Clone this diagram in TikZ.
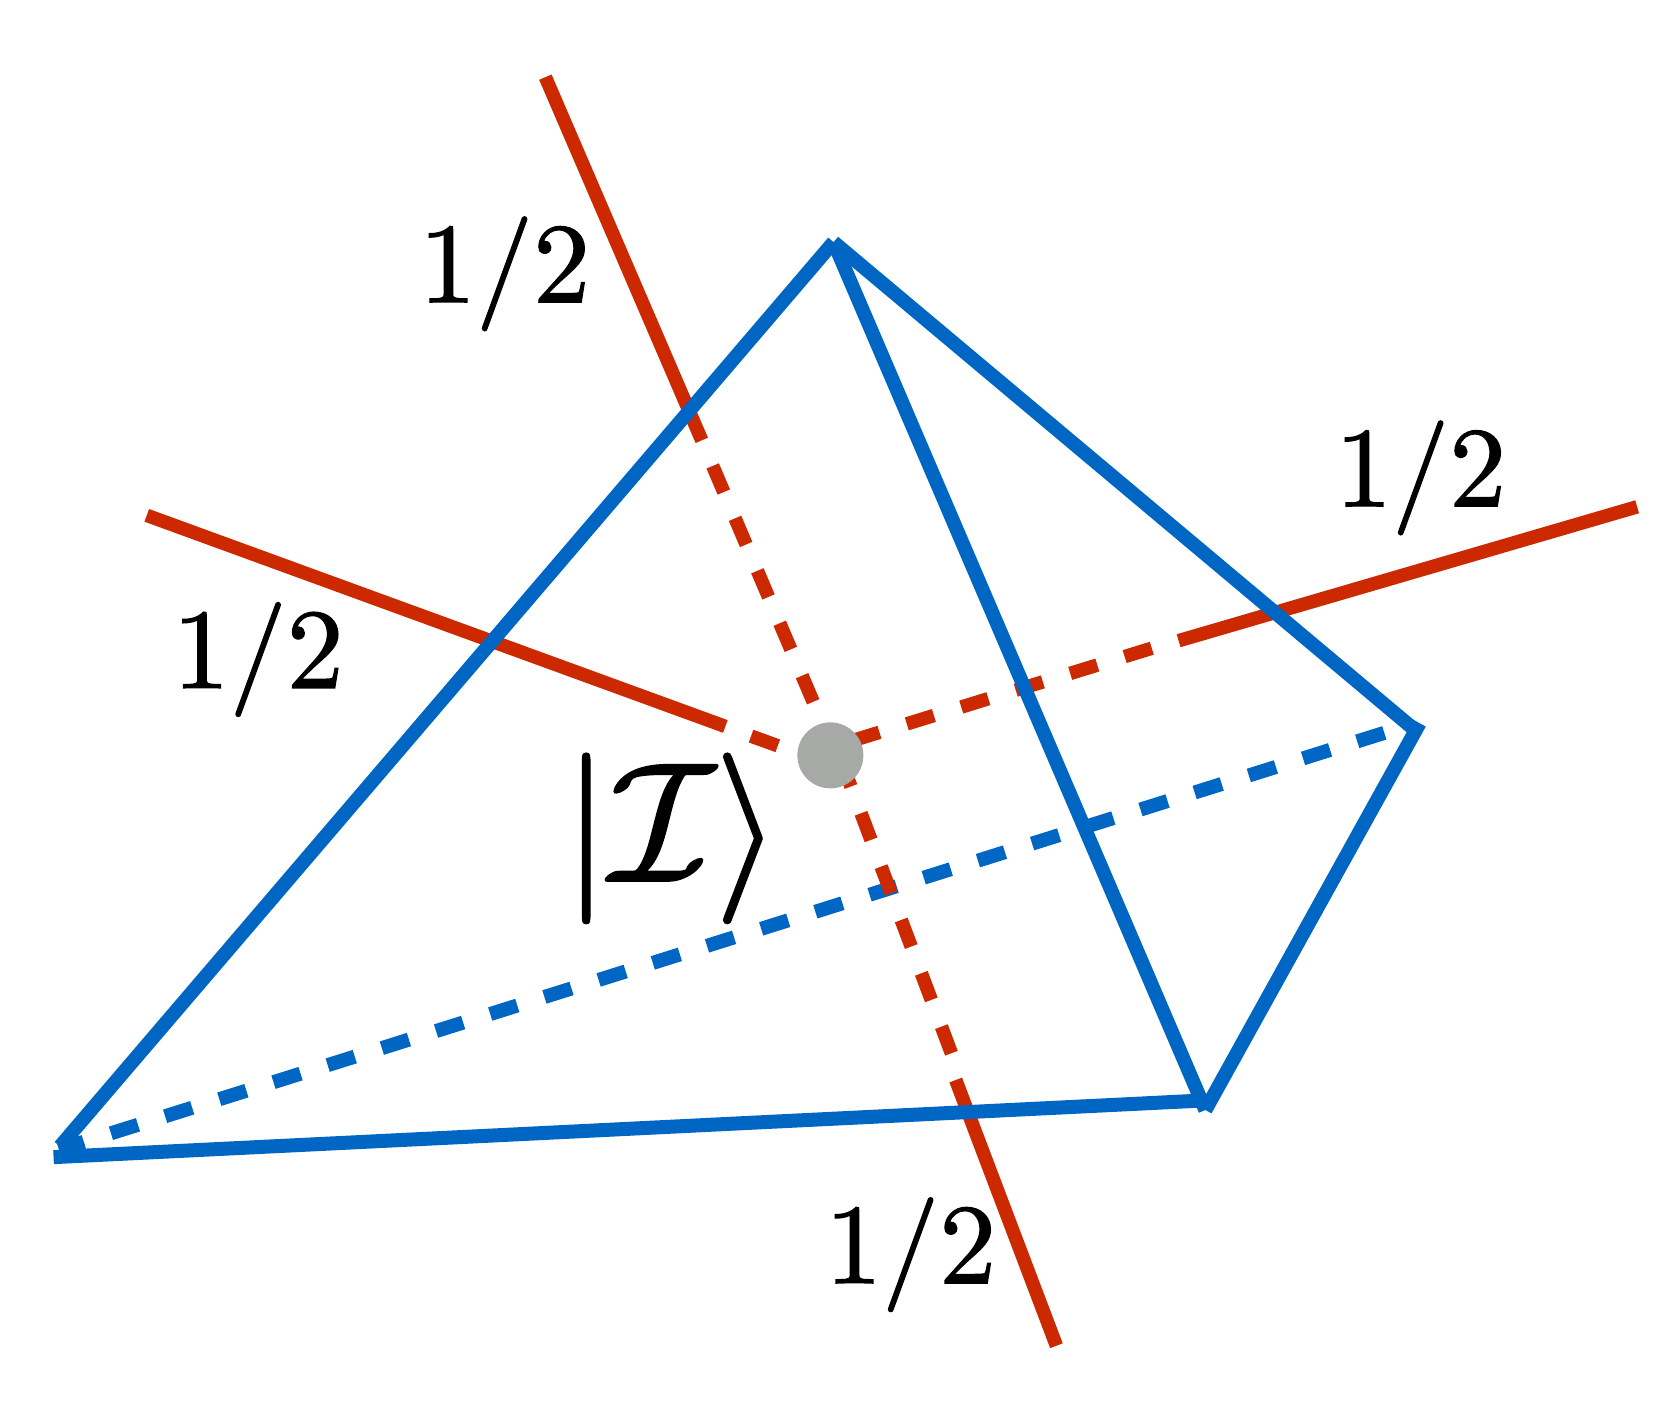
\documentclass[tikz,border=0pt]{standalone}
\definecolor{myred}{HTML}{CC2900}
\definecolor{myblue}{HTML}{0066C4}
\definecolor{mygray}{HTML}{A6A9A6}
\newcommand{\heavy}[1]{\special{pdf:code 2 Tr 0.11 w}#1\special{pdf:code 0 Tr}}
\tikzset{
  redline/.style={draw=myred,line width=13.5pt},
  blueline/.style={draw=myblue,line width=14pt},
  reddash/.style={redline,dash pattern=on 28.4pt off 28.6pt},
  bluedash/.style={blueline,dash pattern=on 28.4pt off 28.4pt},
  half/.style={inner sep=0pt,scale=11.4},
  ket/.style={inner sep=0pt,scale=17}
}
\begin{document}
\begin{tikzpicture}[x=1.0714pt,y=-1.0714pt]
\useasboundingbox (0,0) rectangle (1568,1316);
% blue vertices
\coordinate (apex) at (778,226);
\coordinate (leftA) at (56,1070);
\coordinate (leftB) at (50,1080);
\coordinate (brA) at (1125,1027);
\coordinate (brB) at (1125,1036);
\coordinate (rightA) at (1325,675);
\coordinate (rightB) at (1319,680);
\coordinate (dashR) at (1292,684);
\coordinate (dashL) at (55,1073);
% red line ends
\coordinate (topEnd) at (509,72);
\coordinate (topSolid) at (655,411);
\coordinate (topDash) at (759,655);
\coordinate (botEnd) at (986,1256);
\coordinate (botSolid) at (892,1008);
\coordinate (botDash) at (888,983);
\coordinate (botIn) at (787,715);
\coordinate (leftEnd) at (137,481);
\coordinate (leftSolid) at (677,678);
\coordinate (leftDash) at (701,687);
\coordinate (leftIn) at (745,703);
\coordinate (rightEnd) at (1528,473);
\coordinate (rightSolid) at (1100,598);
\coordinate (rightDash) at (1075,605);
\coordinate (rightIn) at (790,693);
\draw[bluedash] (dashR) -- (dashL);
\draw[redline] (topEnd) -- (topSolid);
\draw[reddash] (topDash) -- (topSolid);
\draw[redline] (botEnd) -- (botSolid);
\draw[reddash] (botDash) -- (botIn);
\draw[redline] (leftEnd) -- (leftSolid);
\draw[reddash] (leftDash) -- (leftIn);
\draw[redline] (rightEnd) -- (rightSolid);
\draw[reddash] (rightDash) -- (rightIn);
\draw[blueline] (apex) -- (leftA);
\draw[blueline] (leftB) -- (brA);
\draw[blueline] (apex) -- (brB);
\draw[blueline] (apex) -- (rightB);
\draw[blueline] (rightA) -- (brB);
\node[circle,fill=mygray,minimum size=66pt,inner sep=0pt] (dot) at (775,705) {};
\node[half] (h1) at (471,255.5) {\heavy{$1/2$}};
\node[half] (h2) at (241,615.5) {\heavy{$1/2$}};
\node[half] (h3) at (1326,446) {\heavy{$1/2$}};
\node[half] (h4) at (850,1171) {\heavy{$1/2$}};
\node[ket] (ket) at (627,782.5) {\heavy{$|\mathcal{I}\rangle$}};
\end{tikzpicture}
\end{document}
